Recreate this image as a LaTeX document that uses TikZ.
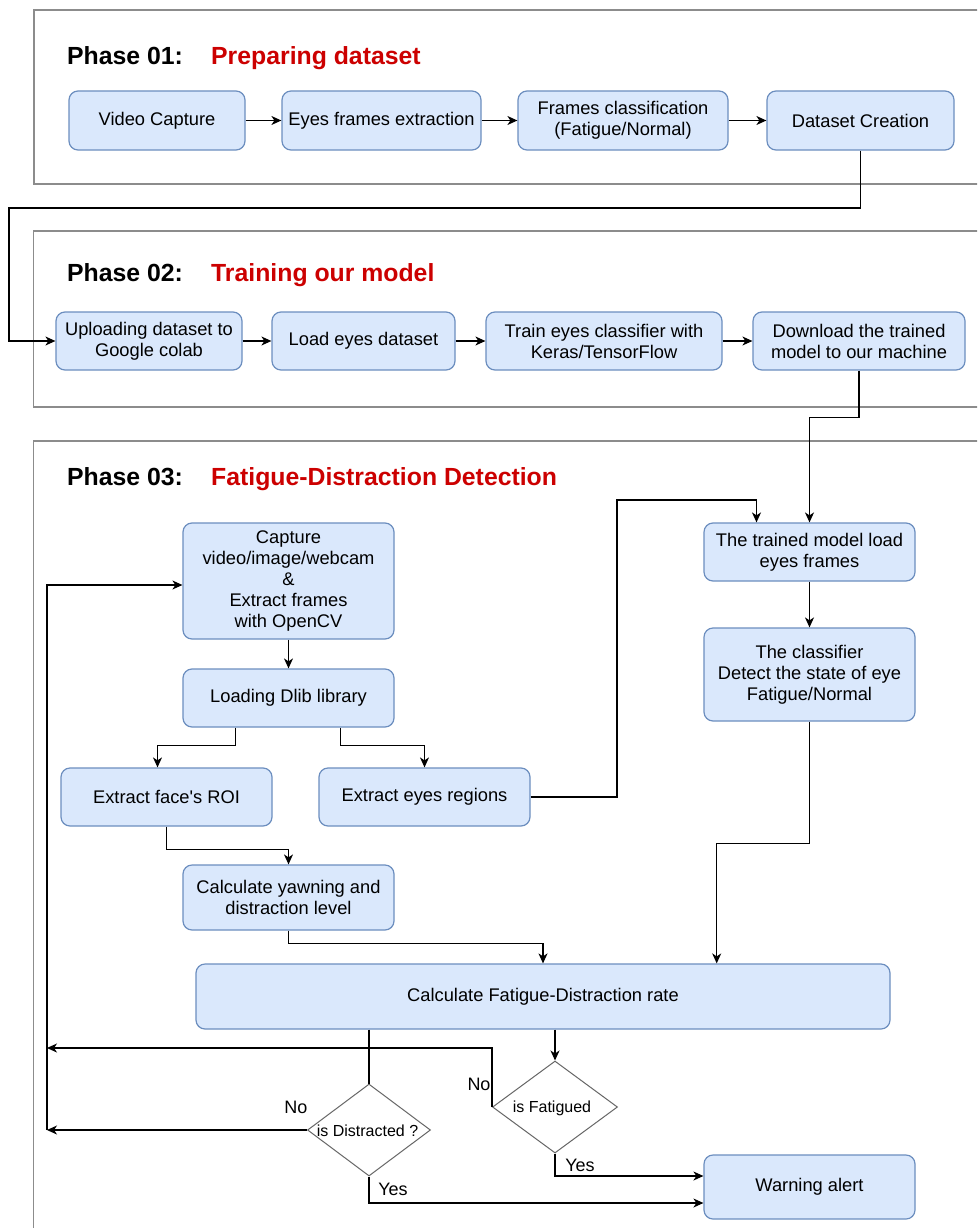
\documentclass[tikz,border=0pt]{standalone}
\usepackage{fontspec}
\setmainfont{Liberation Sans}
\usetikzlibrary{arrows.meta,shapes.geometric}
\definecolor{boxfill}{HTML}{DAE8FC}
\definecolor{boxline}{HTML}{6C8EBF}
\definecolor{phaseline}{HTML}{8C8C8C}
\definecolor{diamline}{HTML}{666666}
\definecolor{titlered}{HTML}{CC0000}
\tikzset{
  box/.style={draw=boxline, fill=boxfill, line width=1.2pt, rounded corners=9pt,
    inner sep=0pt, align=center, font=\fontsize{18.3}{21}\selectfont},
  dia/.style={draw=diamline, diamond, line width=1pt, inner sep=0pt},
  diatext/.style={font=\fontsize{16}{18}\selectfont},
  phase/.style={draw=phaseline, line width=1.2pt},
  phasetitle/.style={anchor=base west, inner sep=0pt, font=\fontsize{24.8}{28}\selectfont\bfseries},
  conn/.style={draw=black, line width=1.2pt},
  arr/.style={conn, -{Stealth[length=10pt,width=9pt,inset=3pt]}},
  lbl/.style={font=\fontsize{18}{20}\selectfont, inner sep=0pt},
}
\begin{document}
\begin{tikzpicture}[x=1pt,y=-1pt]
\clip (0,0) rectangle (977,1228);
\fill[white] (0,0) rectangle (977,1228);

% phase frames
\draw[phase] (34,10) rectangle (1000,184);
\draw[phase] (33.5,231) rectangle (1000,407);
\draw[phase] (33.5,441) rectangle (1000,1240);

% phase titles
\node[phasetitle] (p1) at (67,65) {Phase 01:};
\node[phasetitle, text=titlered] (p1t) at (211,65) {Preparing dataset};
\node[phasetitle] (p2) at (67,281) {Phase 02:};
\node[phasetitle, text=titlered] (p2t) at (211,281) {Training our model};
\node[phasetitle] (p3) at (67,485) {Phase 03:};
\node[phasetitle, text=titlered] (p3t) at (211,485) {Fatigue-Distraction Detection};

% phase 01
\node[box, minimum width=176, minimum height=59] (vc)  at (157,120.5) {Video Capture};
\node[box, minimum width=199, minimum height=59] (efe) at (381.5,120.5) {Eyes frames extraction};
\node[box, minimum width=210, minimum height=59] (fc)  at (623,120.5) {Frames classification\\(Fatigue/Normal)};
\node[box, minimum width=187, minimum height=59] (dc)  at (860.5,120.5) {Dataset Creation};

% phase 02
\node[box, minimum width=186, minimum height=58] (up)  at (149,341) {Uploading dataset to\\Google colab};
\node[box, minimum width=183, minimum height=58] (led) at (363.5,341) {Load eyes dataset};
\node[box, minimum width=236, minimum height=58] (tec) at (604,341) {Train eyes classifier with\\Keras/TensorFlow};
\node[box, minimum width=212, minimum height=58] (dl)  at (859,341) {Download the trained\\model to our machine};

% phase 03
\node[box, minimum width=211, minimum height=116] (cap) at (288.5,581) {Capture\\video/image/webcam\\\&\\Extract frames\\with OpenCV};
\node[box, minimum width=211, minimum height=58] (dlib) at (288.5,698) {Loading Dlib library};
\node[box, minimum width=211, minimum height=58] (face) at (166.5,797) {Extract face\textquotesingle s ROI};
\node[box, minimum width=211, minimum height=58] (eyes) at (424.5,797) {Extract eyes regions};
\node[box, minimum width=211, minimum height=65] (yawn) at (288.5,897.5) {Calculate yawning and\\distraction level};
\node[box, minimum width=211, minimum height=58] (tml) at (809.5,552) {The trained model load\\eyes frames};
\node[box, minimum width=211, minimum height=93] (cls) at (809.5,674.5) {The classifier\\Detect the state of eye\\Fatigue/Normal};
\node[box, minimum width=694, minimum height=65] (rate) at (543,996.5) {Calculate Fatigue-Distraction rate};
\node[dia, minimum width=123, minimum height=92] (dist) at (369,1130) {};
\node[diatext] (distt) at (367.5,1131) {is Distracted ?};
\node[dia, minimum width=125, minimum height=92] (fat) at (555,1107) {};
\node[diatext] (fatt) at (552,1108) {is Fatigued};
\node[box, minimum width=211, minimum height=64] (warn) at (809.5,1187) {Warning alert};

% bend points
\coordinate (k1) at (9,208);
\coordinate (k2) at (809.5,417.5);
\coordinate (k4) at (617,500);
\coordinate (lp1) at (47,1130);
\coordinate (lp2) at (47,1048);

% phase 01 flow
\draw[arr] (vc.east) -- (efe.west);
\draw[arr] (efe.east) -- (fc.west);
\draw[arr] (fc.east) -- (dc.west);
\draw[arr] (dc.south) |- (k1) |- (up.west);

% phase 02 flow
\draw[arr] (up.east) -- (led.west);
\draw[arr] (led.east) -- (tec.west);
\draw[arr] (tec.east) -- (dl.west);
\draw[arr] (dl.south) |- (k2) -- (tml.north);

% phase 03 flow
\draw[arr] (cap.south) -- (dlib.north);
\draw[arr] ([xshift=-53pt]dlib.south) -- ++(0,18) -| ([xshift=-9pt]face.north);
\draw[arr] ([xshift=52pt]dlib.south) -- ++(0,18) -| (eyes.north);
\draw[arr] (face.south) -- ++(0,23) -| (yawn.north);
\draw[arr] (yawn.south) -- ++(0,13) -| (rate.north);
\draw[arr] (eyes.east) -| (k4) -| ([xshift=-53pt]tml.north);
\draw[arr] (tml.south) -- (cls.north);
\draw[arr] (cls.south) -- ++(0,122) -| ([xshift=173.7pt]rate.north);
\draw[conn] ([xshift=-174pt]rate.south) -- (dist.north);
\draw[arr] ([xshift=12pt]rate.south) -- (fat.north);
\draw[arr] (dist.west) -- (lp1);
\draw[arr] (fat.west) |- (lp2);
\draw[arr] (lp1) |- ([yshift=-4pt]cap.west);
\draw[arr] (dist.south) |- ([yshift=-16pt]warn.west);
\draw[arr] (fat.south) |- ([yshift=11pt]warn.west);

% decision labels
\node[lbl] (no1) at (296,1107) {No};
\node[lbl] (no2) at (479,1084) {No};
\node[lbl] (yes1) at (393,1189) {Yes};
\node[lbl] (yes2) at (580,1165) {Yes};
\end{tikzpicture}
\end{document}
